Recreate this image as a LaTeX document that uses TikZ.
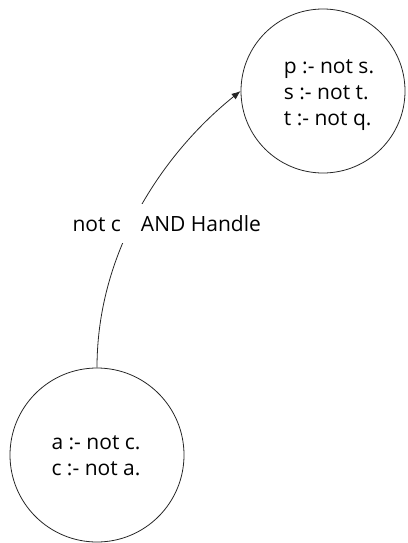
\documentclass[tikz,border=0pt]{standalone}
\usepackage{fontspec}
\setmainfont{Open Sans}
\usetikzlibrary{arrows.meta}
\begin{document}
\begin{tikzpicture}[x=1pt,y=-1pt,
  rulebox/.style={draw=black!85, line width=0.8pt, circle, inner sep=0pt},
  rules/.style={inner sep=0pt, align=left, font=\fontsize{21}{26}\selectfont},
  conn/.style={draw=black!85, line width=0.8pt, -{Latex[length=9pt,width=7pt]}},
  lbl/.style={fill=white, inner xsep=1pt, minimum height=39pt, font=\fontsize{21}{26}\selectfont}]
\useasboundingbox (0,0) rectangle (407,543);
\node[rulebox, minimum size=164pt] (top) at (323,91) {};
\node[rules] (toptext) at (329,95) {p :- not s.\\ s :- not t.\\ t :- not q.};
\node[rulebox, minimum size=174pt] (bot) at (97,455) {};
\node[rules] (bottext) at (96,456) {a :- not c.\\ c :- not a.};
\draw[conn] (bot.north) .. controls +(0,-119) and +(-75,60) .. (top.west);
\node[lbl] (lab) at (166.7,223.5) {not c\hspace{20pt}AND Handle};
\end{tikzpicture}
\end{document}
